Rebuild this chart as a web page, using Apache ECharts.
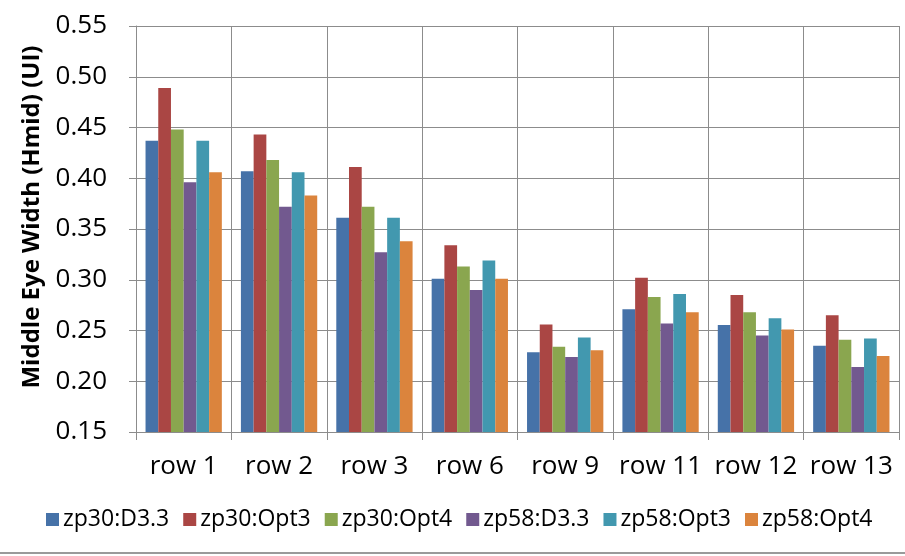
<!DOCTYPE html>
<html>
<head>
<meta charset="utf-8">
<script src="https://cdn.jsdelivr.net/npm/echarts@6/dist/echarts.min.js"></script>
<style>
  html, body { margin: 0; padding: 0; background: #ffffff; }
  #chart { width: 905px; height: 556px; }
</style>
</head>
<body>
<div id="chart"></div>
<script>
// Row categories along the x axis
const categories = ['row 1', 'row 2', 'row 3', 'row 6', 'row 9', 'row 11', 'row 12', 'row 13'];

// Middle eye width (UI) per configuration
const zp30D33  = [0.437, 0.407, 0.361, 0.301, 0.2285, 0.271, 0.2555, 0.235];
const zp30Opt3 = [0.489, 0.443, 0.411, 0.334, 0.256, 0.302, 0.285, 0.265];
const zp30Opt4 = [0.448, 0.418, 0.372, 0.313, 0.234, 0.283, 0.268, 0.241];
const zp58D33  = [0.396, 0.372, 0.327, 0.290, 0.224, 0.257, 0.245, 0.214];
const zp58Opt3 = [0.437, 0.406, 0.361, 0.319, 0.243, 0.286, 0.262, 0.242];
const zp58Opt4 = [0.406, 0.383, 0.338, 0.301, 0.2305, 0.268, 0.251, 0.225];

const seriesNames = ['zp30:D3.3', 'zp30:Opt3', 'zp30:Opt4', 'zp58:D3.3', 'zp58:Opt3', 'zp58:Opt4'];
const seriesData = [zp30D33, zp30Opt3, zp30Opt4, zp58D33, zp58Opt3, zp58Opt4];
const colors = ['#4672A8', '#AA4644', '#8AA64F', '#72598F', '#4298AF', '#DB843D'];

// Y axis range and tick step
const yMin = 0.15, yMax = 0.55, yStep = 0.05;

const FONT = 'Open Sans';
const gridColor = '#8c8c8c';

const chart = echarts.init(document.getElementById('chart'), null, { renderer: 'canvas' });

chart.setOption({
  animation: false,
  color: colors,
  textStyle: { fontFamily: FONT },
  grid: { left: 136, right: 6, top: 26, bottom: 124, containLabel: false },
  legend: {
    data: seriesNames,
    bottom: 20,
    left: 41,
    icon: 'rect',
    itemWidth: 13,
    itemHeight: 13,
    itemGap: 14,
    textStyle: { fontFamily: FONT, fontSize: 23, color: '#000000', padding: [0, 0, 0, -1] }
  },
  xAxis: {
    type: 'category',
    data: categories,
    boundaryGap: true,
    axisLine: { show: true, lineStyle: { color: gridColor, width: 1 } },
    axisTick: { show: true, interval: 0, length: 8, inside: false, lineStyle: { color: gridColor } },
    splitLine: { show: true, interval: 0, lineStyle: { color: gridColor, width: 1 } },
    axisLabel: { interval: 0, hideOverlap: false, fontFamily: FONT, fontSize: 26, color: '#000000', margin: 22 }
  },
  yAxis: {
    type: 'value',
    min: yMin,
    max: yMax,
    interval: yStep,
    name: 'Middle Eye Width (Hmid) (UI)',
    nameLocation: 'middle',
    nameGap: 92,
    nameTextStyle: {
      fontFamily: FONT, fontSize: 24, fontWeight: 'bold', color: '#000000',
      padding: [0, 0, 0, 24]
    },
    axisLine: { show: true, lineStyle: { color: gridColor, width: 1 } },
    axisTick: { show: true, length: 7, lineStyle: { color: gridColor } },
    splitLine: { show: true, lineStyle: { color: gridColor, width: 1 } },
    axisLabel: {
      fontFamily: FONT, fontSize: 26, color: '#000000', margin: 29,
      formatter: v => v.toFixed(2)
    }
  },
  series: seriesNames.map((name, i) => ({
    name: name,
    type: 'bar',
    data: seriesData[i],
    barGap: '0%',
    barCategoryGap: '20%',
    itemStyle: { color: colors[i] }
  })),
  graphic: [{
    type: 'line',
    shape: { x1: 0, y1: 553, x2: 905, y2: 553 },
    style: { stroke: '#9a9a9a', lineWidth: 2 },
    silent: true
  }]
});
</script>
</body>
</html>
